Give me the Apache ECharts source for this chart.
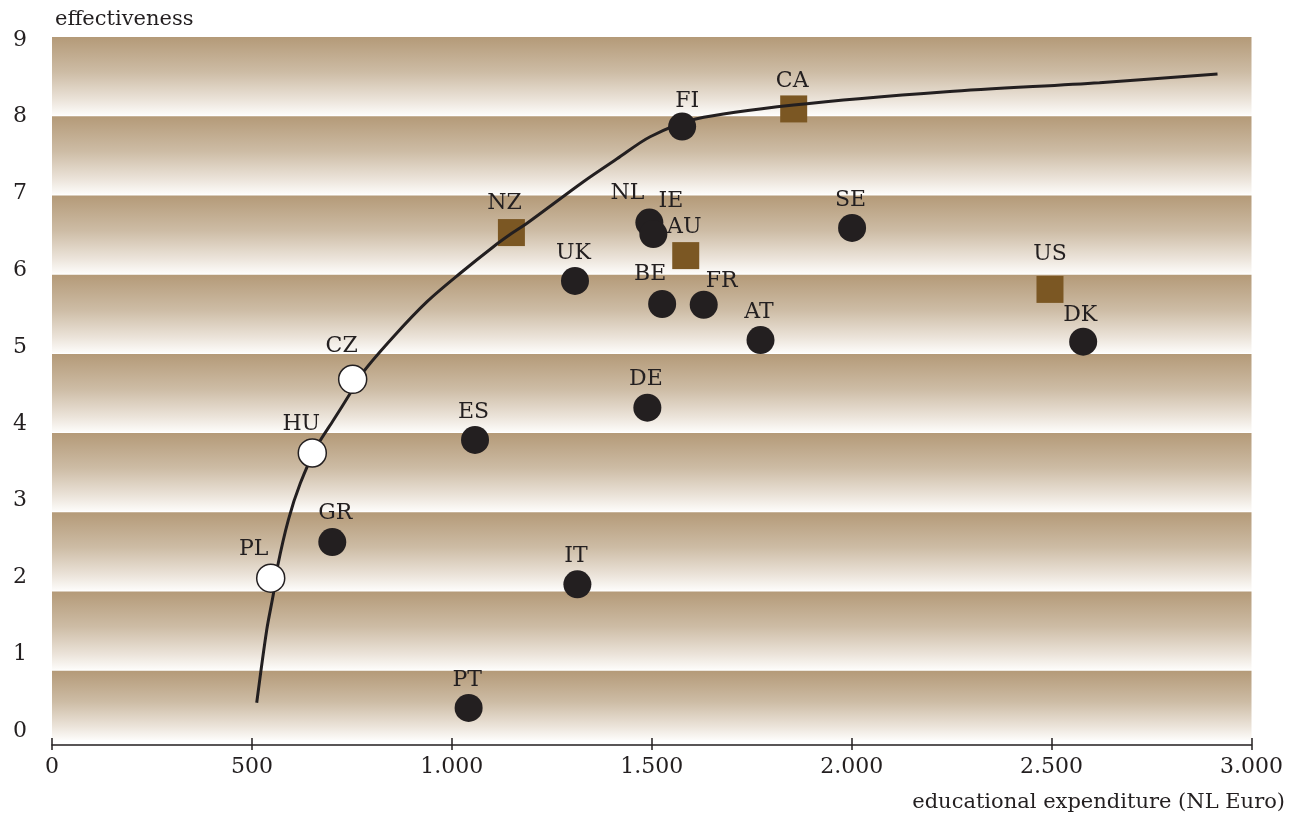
<!DOCTYPE html>
<html>
<head>
<meta charset="utf-8">
<script src="https://cdn.jsdelivr.net/npm/echarts@6/dist/echarts.min.js"></script>
<style>
html,body{margin:0;padding:0;background:#fff;}
#chart{width:1299px;height:819px;}
</style>
</head>
<body>
<div id="chart"></div>
<script>
// ---- data ----
const countries = ['PL','HU','CZ','GR','ES','PT','IT','UK','NZ','DE','BE','FR','NL','IE','AU','FI','CA','AT','SE','US','DK'];
const expenditure = [547,651,752,701,1058,1042,1314,1308,1149,1489,1526,1630,1494,1504,1585,1576,1855,1772,2001,2496,2579];
const effectiveness = [1.99,3.62,4.58,2.46,3.79,0.30,1.91,5.86,6.49,4.21,5.56,5.55,6.62,6.47,6.19,7.87,8.10,5.09,6.55,5.75,5.07];
const group = ['open','open','open','closed','closed','closed','closed','closed','square','closed','closed','closed','closed','closed','square','closed','square','closed','closed','square','closed'];

const curveX = [512,537,554,564,591,621,662,704,746,779,854,938,1021,1104,1150,1188,1329,1413,1496,1610,1855,2237,2620,2915];
const curveY = [0.368,1.315,1.793,2.139,2.747,3.225,3.702,4.049,4.397,4.678,5.134,5.590,5.960,6.306,6.480,6.611,7.152,7.450,7.738,7.969,8.151,8.324,8.441,8.555];

const xTicks = [0,500,1000,1500,2000,2500,3000];
const xTickLabels = ['0','500','1.000','1.500','2.000','2.500','3.000'];
const yTicks = [0,1,2,3,4,5,6,7,8,9];
const yTickLabels = ['0','1','2','3','4','5','6','7','8','9'];

// ---- layout / style ----
const INK = '#231f20';
const BROWN = '#7b5723';
const FONT = 'DejaVu Serif';
const labelNudge = {
  PL:[-17,-29], HU:[-11,-29], CZ:[-11,-33], GR:[3,-29], NZ:[-7,-29], BE:[-12,-30],
  FR:[18,-23], NL:[-22,-29], IE:[17.5,-33], US:[0,-35], FI:[5,-25], DK:[-3,-26]
};
const defaultNudge = [-1.5,-28];

// decorative background bands (value units of the y axis)
const bandStart = 9.035, bandStep = 1.03125, bandHeight = 1.018, bandFloor = -0.117, bandCount = 9;
const bandAreas = [];
for (let k = 0; k < bandCount; k++) {
  const top = bandStart - k * bandStep;
  const bot = Math.max(top - bandHeight, bandFloor);
  bandAreas.push([{xAxis: 0, yAxis: top}, {xAxis: 3000, yAxis: bot}]);
}

function pts(g) {
  const out = [];
  countries.forEach((c, i) => {
    if (group[i] !== g) return;
    out.push({
      name: c,
      value: [expenditure[i], effectiveness[i]],
      label: {offset: labelNudge[c] || defaultNudge}
    });
  });
  return out;
}

const labelStyle = {
  show: true, position: 'inside', formatter: '{b}',
  color: INK, fontFamily: FONT, fontSize: 22
};

const chart = echarts.init(document.getElementById('chart'), null, {renderer: 'canvas'});
chart.setOption({
  animation: false,
  backgroundColor: '#ffffff',
  grid: {left: 52, right: 47.5, top: 37, bottom: 74, containLabel: false, outerBoundsMode: 'none'},
  xAxis: [{
    type: 'value', min: 0, max: 3000, interval: 500,
    name: 'educational expenditure (NL Euro)', nameLocation: 'end', nameGap: 33.5,
    nameTextStyle: {color: INK, fontFamily: FONT, fontSize: 21, align: 'right', verticalAlign: 'top', padding: [47, 0, 0, 0]},
    axisLine: {show: true, onZero: false, lineStyle: {color: INK, width: 1.5}},
    axisTick: {show: true, inside: true, length: 7, lineStyle: {color: INK, width: 1.5}},
    axisLabel: {
      color: INK, fontFamily: FONT, fontSize: 22, margin: 11,
      formatter: v => { const i = xTicks.indexOf(v); return i >= 0 ? xTickLabels[i] : ''; }
    },
    splitLine: {show: false}
  }, {
    type: 'value', min: 0, max: 3000, interval: 500, position: 'bottom',
    axisLine: {show: false, onZero: false},
    axisTick: {show: true, inside: false, length: 5, lineStyle: {color: INK, width: 1.5}},
    axisLabel: {show: false},
    splitLine: {show: false}
  }],
  yAxis: {
    type: 'value', min: -0.1823, max: 9.0365,
    name: 'effectiveness', nameLocation: 'end', nameGap: 17,
    nameTextStyle: {color: INK, fontFamily: FONT, fontSize: 21, align: 'left', verticalAlign: 'middle', padding: [0, 0, 0, 3]},
    axisLine: {show: false, onZero: false},
    axisTick: {show: false},
    splitLine: {show: false},
    axisLabel: {
      customValues: yTicks,
      color: INK, fontFamily: FONT, fontSize: 22, margin: 25,
      formatter: v => { const i = yTicks.indexOf(Math.round(v)); return i >= 0 ? yTickLabels[i] : ''; }
    }
  },
  series: [
    {
      name: 'bands', type: 'line', data: [], z: 0, silent: true,
      markArea: {
        silent: true, z: 0,
        itemStyle: {
          color: {type: 'linear', x: 0, y: 0, x2: 0, y2: 1, colorStops: [
            {offset: 0, color: '#b49a78'},
            {offset: 0.45, color: '#cdbca5'},
            {offset: 0.8, color: '#ebe3d9'},
            {offset: 1, color: '#fdfcfa'}
          ]},
          borderWidth: 0
        },
        data: bandAreas
      }
    },
    {
      name: 'squares', type: 'scatter', z: 2, symbol: 'rect', symbolSize: 27,
      itemStyle: {color: BROWN, opacity: 1},
      label: labelStyle,
      data: pts('square')
    },
    {
      name: 'curve', type: 'line', z: 3, smooth: 0.3, symbol: 'none',
      lineStyle: {color: INK, width: 3},
      data: curveX.map((x, i) => [x, curveY[i]])
    },
    {
      name: 'open', type: 'scatter', z: 4, symbol: 'circle', symbolSize: 28,
      itemStyle: {color: '#ffffff', borderColor: INK, borderWidth: 1.5, opacity: 1},
      label: labelStyle,
      data: pts('open')
    },
    {
      name: 'closed', type: 'scatter', z: 4, symbol: 'circle', symbolSize: 28,
      itemStyle: {color: INK, opacity: 1},
      label: labelStyle,
      data: pts('closed')
    }
  ]
});
</script>
</body>
</html>
